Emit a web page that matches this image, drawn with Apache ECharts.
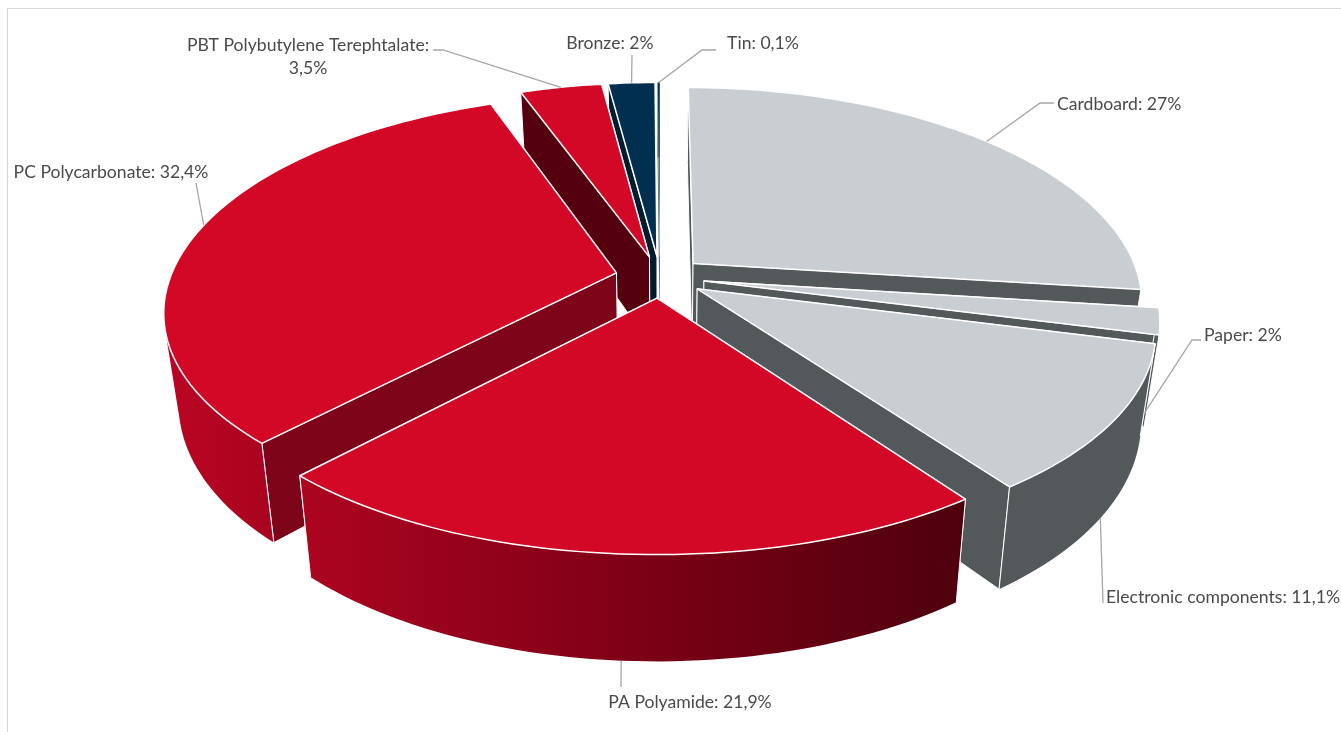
<!DOCTYPE html>
<html>
<head>
<meta charset="utf-8">
<style>
html, body { margin: 0; padding: 0; background: #fff; }
#main { width: 1341px; height: 732px; }
</style>
<script src="https://cdn.jsdelivr.net/npm/echarts@6/dist/echarts.min.js"></script>
</head>
<body>
<div id="main"></div>
<script>
const categories = ['Cardboard', 'Paper', 'Electronic components', 'PA Polyamide', 'PC Polycarbonate', 'PBT Polybutylene Terephtalate', 'Bronze', 'Tin']
const shares = [27, 2, 11.1, 21.9, 32.4, 3.5, 2, 0.1]

// look of each slice
const topColors = ['#c9ced2', '#c9ced2', '#c9ced2', '#d30826', '#d30826', '#d30826', '#002f4f', '#002f4f']
const faceColors = ['#53585a', '#53585a', '#53585a', '#7e0419', '#7e0419', '#55000f', '#001c2e', '#001c2e']
const drawRank = [3, 5, 6, 7, 4, 2, 1, 0]

// perspective of the pie
const CX = 660, CY = 277, RX = 446, RY = 208, DEPTH = 88, PERSP_X = 0.174, PERSP_Y = 0.16, SHRINK = 0.03, EXPLODE = 0.1

// where each label goes: text x, text y, align, elbow points, height on the wall where the leader starts, nudge of the start angle
const labelLayout = [
    { x: 1057, y: 104, align: 'left', line: [[1040, 103], [1054, 103]], h: 0, nudge: 0 },
    { x: 1204, y: 335, align: 'left', line: [[1192, 340], [1201, 340]], h: 1, nudge: 0 },
    { x: 1106, y: 597, align: 'left', line: [[1103, 603]], h: 1, nudge: 0 },
    { x: 690, y: 702, align: 'center', line: [[621, 687]], h: 1, nudge: 0 },
    { x: 111, y: 172, align: 'center', line: [[196, 183]], h: 0, nudge: 0.04 },
    { x: 308, y: 57, align: 'center', line: [[443, 50], [433, 50]], h: 0, nudge: 0 },
    { x: 610, y: 43, align: 'center', line: [[632, 55]], h: 0, nudge: 0 },
    { x: 763, y: 43, align: 'center', line: [[702, 50], [716, 50]], h: 0, nudge: 0 }
]

const total = shares.reduce((a, b) => a + b, 0)

function project(x, y, h) {
    const wx = 1 / (1 - PERSP_X * y)
    const wy = 1 / (1 - PERSP_Y * y)
    const s = 1 - SHRINK * h
    return [CX + RX * x * wx * s, CY + RY * y * wy + DEPTH * h * wy]
}

function labelText(i) {
    const value = String(shares[i]).replace('.', ',')
    return categories[i] + ':' + (i === 5 ? '\n' : ' ') + value + '%'
}

function wallFill(i) {
    if (i === 3) {
        return new echarts.graphic.LinearGradient(300, 0, 965, 0, [
            { offset: 0, color: '#ad0420' },
            { offset: 0.5, color: '#7e0016' },
            { offset: 1, color: '#4e000d' }
        ], true)
    }
    if (i === 4) {
        return new echarts.graphic.LinearGradient(164, 0, 272, 0, [
            { offset: 0, color: '#bb0525' },
            { offset: 1, color: '#a9041f' }
        ], true)
    }
    return faceColors[i]
}

// one path of same-wound quads, so the silhouette follows the tangent between both arcs without seams
function wallPath(topArc, lowArc) {
    let d = ''
    for (let k = 0; k < topArc.length - 1; k++) {
        let quad = [topArc[k], topArc[k + 1], lowArc[k + 1], lowArc[k]]
        let area = 0
        quad.forEach((p, n) => {
            const q = quad[(n + 1) % 4]
            area += p[0] * q[1] - q[0] * p[1]
        })
        if (area < 0) {
            quad = quad.reverse()
        }
        d += 'M' + quad.map(p => p[0].toFixed(2) + ' ' + p[1].toFixed(2)).join('L') + 'Z'
    }
    return d
}

function renderSlice(params, api) {
    const i = params.dataIndex
    const before = shares.slice(0, i).reduce((a, b) => a + b, 0)
    const a0 = before / total * Math.PI * 2
    const a1 = (before + shares[i]) / total * Math.PI * 2
    const mid = (a0 + a1) / 2
    const ox = EXPLODE * Math.sin(mid)
    const oy = -EXPLODE * Math.cos(mid)
    const z = drawRank[i] * 10

    const rim = (a, h) => project(ox + Math.sin(a), oy - Math.cos(a), h)
    const apex = h => project(ox, oy, h)

    const topArc = []
    const lowArc = []
    const steps = Math.max(2, Math.ceil((a1 - a0) * 40))
    for (let k = 0; k <= steps; k++) {
        const a = a0 + (a1 - a0) * k / steps
        topArc.push(rim(a, 0))
        lowArc.push(rim(a, 1))
    }

    const thin = shares[i] < 1
    const edge = thin ? 0.3 : 1
    const children = []
    const face = a => ({
        type: 'polygon',
        z2: z,
        shape: { points: [apex(0), rim(a, 0), rim(a, 1), apex(1)] },
        style: { fill: faceColors[i], stroke: '#fff', lineWidth: edge, lineJoin: 'round' }
    })
    // far cut face first, so the near one covers it
    if (-Math.cos(a0) < -Math.cos(a1)) {
        children.push(face(a0), face(a1))
    } else {
        children.push(face(a1), face(a0))
    }
    children.push({
        type: 'path',
        z2: z + 1,
        shape: { pathData: wallPath(topArc, lowArc) },
        style: { fill: wallFill(i) }
    })
    ;[a0, a1].forEach(a => {
        const p = rim(a, 0), q = rim(a, 1)
        children.push({
            type: 'line',
            z2: z + 2,
            shape: { x1: p[0], y1: p[1], x2: q[0], y2: q[1] },
            style: { stroke: '#fff', lineWidth: edge }
        })
    })
    children.push({
        type: 'polygon',
        z2: z + 3,
        shape: { points: [apex(0)].concat(topArc) },
        style: { fill: topColors[i], stroke: '#fff', lineWidth: thin ? 0.3 : 1.5, lineJoin: 'round' }
    })

    const lay = labelLayout[i]
    children.push({
        type: 'polyline',
        z2: 200,
        shape: { points: [rim(mid + lay.nudge, lay.h)].concat(lay.line) },
        style: { stroke: '#a6a6a6', lineWidth: 1.3, fill: null }
    })
    children.push({
        type: 'text',
        z2: 201,
        x: lay.x,
        y: lay.y,
        style: {
            text: labelText(i),
            fill: '#4a4a4a',
            font: '17.6px Lato',
            align: lay.align,
            verticalAlign: 'middle',
            lineHeight: 23
        }
    })
    return { type: 'group', children: children }
}

const myChart = echarts.init(document.getElementById('main'), null, { renderer: 'canvas' })
const option = {
    animation: false,
    backgroundColor: '#fff',
    graphic: [
        {
            type: 'polyline',
            silent: true,
            shape: { points: [[7.5, 732], [7.5, 8.5], [1341, 8.5]] },
            style: { stroke: '#d9d9d9', lineWidth: 1.2, fill: null }
        }
    ],
    series: [
        {
            type: 'custom',
            coordinateSystem: 'none',
            silent: true,
            renderItem: renderSlice,
            data: categories.map((name, i) => ({ name: name, value: shares[i] }))
        }
    ]
}
myChart.setOption(option)
</script>
</body>
</html>
